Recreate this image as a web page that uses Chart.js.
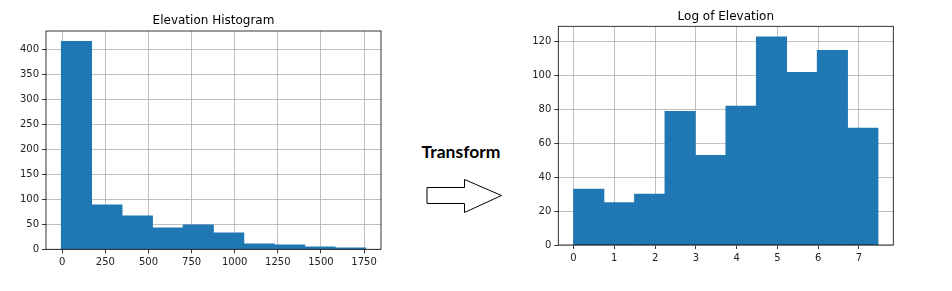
<!DOCTYPE html>
<html>
<head>
<meta charset="utf-8">
<script src="https://cdn.jsdelivr.net/npm/chart.js@4/dist/chart.umd.min.js"></script>
<style>
  html, body { margin: 0; padding: 0; background: #fff; }
  #wrap { position: relative; width: 952px; height: 291px; overflow: hidden; }
  #elevBox { position: absolute; left: 0; top: 0; width: 400px; height: 291px; }
  #logBox { position: absolute; left: 520px; top: 0; width: 400px; height: 291px; }
  #transform {
    position: absolute; left: 419px; top: 141px; width: 84px; text-align: center;
    font-family: Lato, "Liberation Sans", sans-serif; font-weight: bold; font-size: 17.5px; color: #000;
  }
  #arrow { position: absolute; left: 0; top: 0; }
</style>
</head>
<body>
<div id="wrap">
  <div id="elevBox"><canvas id="elevChart" width="400" height="291"></canvas></div>
  <div id="logBox"><canvas id="logChart" width="400" height="291"></canvas></div>
  <div id="transform">Transform</div>
  <svg id="arrow" width="952" height="291">
    <polygon points="427,187.5 464.5,187.5 464.5,179.5 501.5,195.5 464.5,212.5 464.5,203.5 427,203.5"
             fill="#fff" stroke="#000" stroke-width="1"/>
  </svg>
</div>
<script>
// elevation histogram (10 bins)
const elevEdges = [-6, 170.6, 347.2, 523.8, 700.4, 877, 1053.6, 1230.2, 1406.8, 1583.4, 1760];
const elevCounts = [417, 89, 67, 43, 49, 33, 11, 9, 5, 3];
const elevXTicks = [0, 250, 500, 750, 1000, 1250, 1500, 1750];
const elevYTicks = [0, 50, 100, 150, 200, 250, 300, 350, 400];

// log of elevation histogram (10 bins)
const logEdges = [0, 0.747, 1.494, 2.241, 2.988, 3.735, 4.482, 5.229, 5.976, 6.723, 7.47];
const logCounts = [33, 25, 30, 79, 53, 82, 123, 102, 115, 69];
const logXTicks = [0, 1, 2, 3, 4, 5, 6, 7];
const logYTicks = [0, 20, 40, 60, 80, 100, 120];

const barColor = '#1f77b4';
const gridColor = '#b0b0b0';
const font = { family: 'DejaVu Sans', size: 10 };

function toBars(edges, counts) {
  return counts.map((c, i) => ({ x: (edges[i] + edges[i + 1]) / 2, y: c }));
}

const frame = {
  id: 'frame',
  afterDraw(chart) {
    const a = chart.chartArea;
    const ctx = chart.ctx;
    ctx.save();
    ctx.strokeStyle = '#000';
    ctx.lineWidth = 0.8;
    ctx.strokeRect(a.left, a.top, a.right - a.left, a.bottom - a.top);
    ctx.restore();
  }
};

function makeHist(id, opts) {
  const span = opts.edges[opts.edges.length - 1] - opts.edges[0];
  const xMin = opts.edges[0] - span * 0.05;
  const xMax = opts.edges[opts.edges.length - 1] + span * 0.05;
  const yMax = Math.max(...opts.counts) * 1.05;

  return new Chart(document.getElementById(id).getContext('2d'), {
    type: 'bar',
    data: {
      datasets: [{
        data: toBars(opts.edges, opts.counts),
        backgroundColor: barColor,
        borderWidth: 0,
        barPercentage: 1,
        categoryPercentage: 1
      }]
    },
    options: {
      responsive: false,
      animation: false,
      layout: { padding: { left: 0, right: opts.padRight, top: 0, bottom: 0 } },
      plugins: {
        legend: { display: false },
        tooltip: { enabled: false },
        title: {
          display: true,
          text: opts.title,
          fullSize: false,
          color: '#000',
          font: { family: 'DejaVu Sans', size: 12, weight: 'normal' },
          padding: { top: opts.titleTop, bottom: opts.titleBottom }
        }
      },
      scales: {
        x: {
          type: 'linear',
          min: xMin,
          max: xMax,
          offset: false,
          z: 1,
          afterBuildTicks: s => { s.ticks = opts.xTicks.map(v => ({ value: v })); },
          afterFit: s => { s.height = opts.xHeight; },
          grid: { color: gridColor, lineWidth: 0.8, offset: false, tickLength: 4, tickColor: '#000' },
          border: { display: false },
          ticks: { color: '#222', font: font, padding: 3, maxRotation: 0, autoSkip: false,
                   callback: v => String(v) }
        },
        y: {
          type: 'linear',
          min: 0,
          max: yMax,
          z: 1,
          afterBuildTicks: s => { s.ticks = opts.yTicks.map(v => ({ value: v })); },
          afterFit: s => { s.width = opts.yWidth; },
          grid: { color: gridColor, lineWidth: 0.8, tickLength: 4, tickColor: '#000' },
          border: { display: false },
          ticks: { color: '#222', font: font, padding: 3, callback: v => String(v) }
        }
      }
    },
    plugins: [frame]
  });
}

makeHist('elevChart', {
  edges: elevEdges, counts: elevCounts, xTicks: elevXTicks, yTicks: elevYTicks,
  title: 'Elevation Histogram', titleTop: 14, titleBottom: 2.6,
  yWidth: 46, xHeight: 41.7, padRight: 19
});

makeHist('logChart', {
  edges: logEdges, counts: logCounts, xTicks: logXTicks, yTicks: logYTicks,
  title: 'Log of Elevation', titleTop: 9.5, titleBottom: 2.4,
  yWidth: 38.3, xHeight: 46, padRight: 26.7
});
</script>
</body>
</html>
